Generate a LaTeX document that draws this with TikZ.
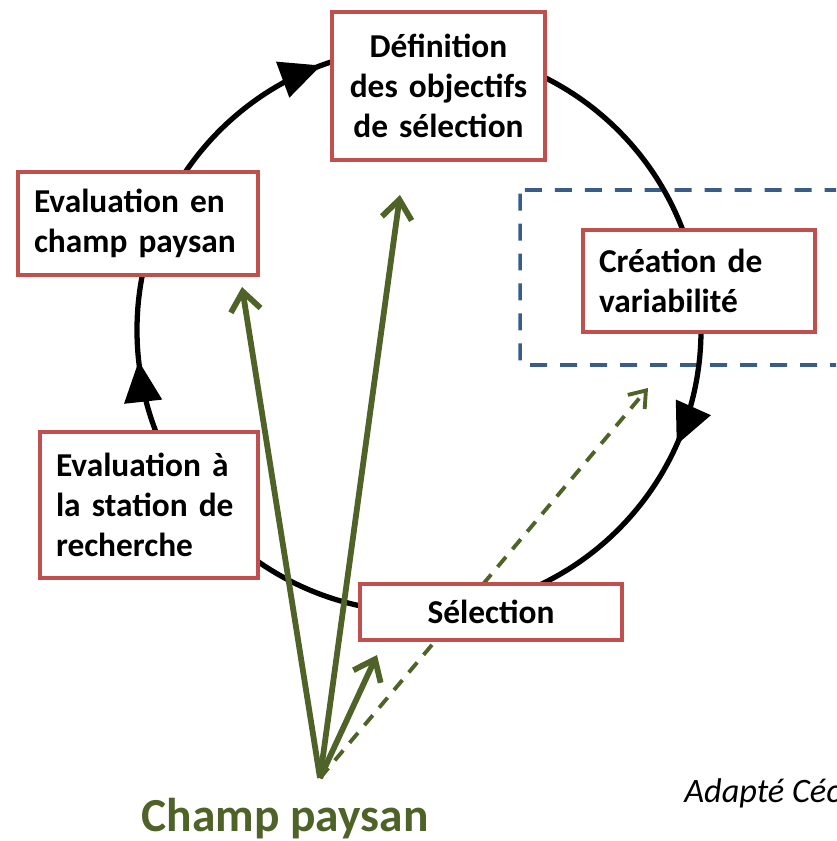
\documentclass[tikz,border=0pt]{standalone}
\usepackage{fontspec}
\setmainfont{Carlito}
\usetikzlibrary{arrows.meta,decorations.markings}
\definecolor{rouge}{HTML}{C0504D}
\definecolor{olive}{HTML}{4F6228}
\definecolor{bleu}{HTML}{385D8A}
\begin{document}
\begin{tikzpicture}[x=0.02cm, y=-0.02cm,
    etape/.style={draw=rouge, line width=2pt, fill=white, inner xsep=0.32cm, inner ysep=0pt,
        font=\bfseries\fontsize{19}{22.8}\selectfont},
    fleche/.style={olive, line width=3.3pt, -{Straight Barb[length=0.38cm,width=0.6cm]}},
    boucle/.style={line width=3pt, postaction={decorate}, decoration={markings,
        mark=at position 0.0667 with {\arrow{Triangle[length=0.82cm,width=0.74cm]}},
        mark=at position 0.4825 with {\arrow{Triangle[length=0.82cm,width=0.74cm]}},
        mark=at position 0.6936 with {\arrow{Triangle[length=0.82cm,width=0.74cm]}}}}]
\useasboundingbox (0,0) rectangle (836,841);
\clip (0,0) rectangle (836,841);
% cadre autour de la creation de variabilite
\draw[bleu, line width=2pt, dash pattern=on 0.34cm off 0.26cm, rounded corners=2pt] (520,190) rectangle (870,365);
% le cycle
\coordinate (centre) at (419,330);
\draw[boucle] (centre) circle[radius=282];
% fleches depuis le champ
\coordinate (src) at (320,778);
\coordinate (versevchamp) at (242,287);
\coordinate (versdef) at (400,195);
\coordinate (verssel) at (377,655);
\coordinate (verscrea) at (648,388);
\foreach \c in {versevchamp,versdef,verssel}
{
    \draw[fleche] (src)--(\c);
}
\draw[fleche, line width=2.2pt, dash pattern=on 0.26cm off 0.2cm,
    -{Straight Barb[length=0.3cm,width=0.44cm]}] (src)--(verscrea);
% etapes
\node[etape, align=center, text width=3.62cm, minimum height=2.96cm] (def) at (438.5,86) {Définition\\des objectifs\\de sélection};
\node[etape, align=left, text width=4.16cm, minimum height=2.06cm] (evchamp) at (138,223.5) {Evaluation en\\champ paysan};
\node[etape, align=left, text width=4.0cm, minimum height=2.04cm] (creation) at (699,281) {Création de\\variabilité};
\node[etape, align=left, text width=3.72cm, minimum height=2.92cm] (station) at (149,505) {Evaluation à\\la station de\\recherche};
\node[etape, align=center, text width=4.6cm, minimum height=1.12cm] (selection) at (491,612) {Sélection};
% textes du bas
\node[olive, font=\bfseries\fontsize{27}{32}\selectfont, anchor=base] (champ) at (285,831) {Champ paysan};
\node[font=\itshape\fontsize{19.5}{23}\selectfont, anchor=base west, inner sep=0pt] (source) at (684,802) {Adapté Céc};
\end{tikzpicture}
\end{document}
